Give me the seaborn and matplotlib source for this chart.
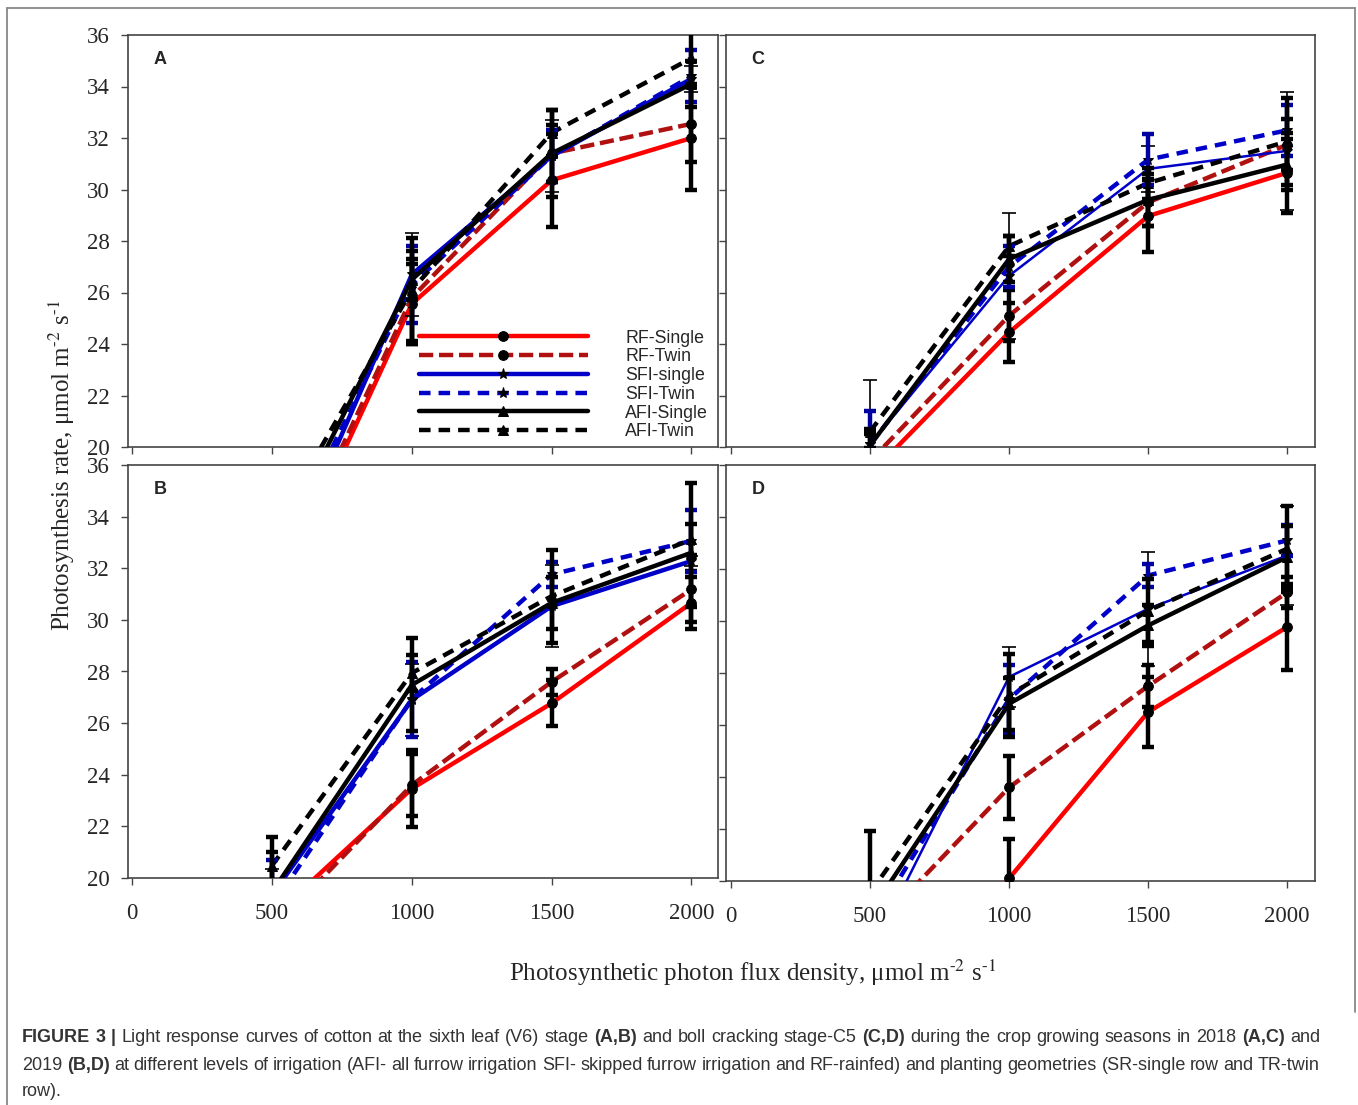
# Light response curves of cotton - 4 panel figure (A, C top; B, D bottom)

import matplotlib
matplotlib.use('Agg')
import matplotlib.pyplot as plt
from matplotlib.lines import Line2D
import seaborn as sns
import pandas as pd

# PPFD levels
ppfd = [500, 1000, 1500, 2000]

series = ['RF-Single', 'RF-Twin', 'SFI-single', 'SFI-Twin', 'AFI-Single', 'AFI-Twin']

# mean photosynthesis rate, rows follow `series`
panel_a_mean = [[13.8, 25.56, 30.36, 32.0],
                [14.2, 25.8, 31.4, 32.55],
                [14.3, 26.7, 31.3, 34.3],
                [15.2, 26.3, 31.3, 34.4],
                [15.77, 26.5, 31.4, 34.1],
                [16.69, 26.1, 32.2, 35.1]]
panel_a_err = [[1.0, 1.56, 1.8, 2.0],
               [1.0, 1.8, 1.7, 1.5],
               [1.0, 1.6, 1.4, 0.5],
               [1.0, 1.5, 1.0, 1.0],
               [1.0, 0.8, 1.1, 0.9],
               [1.0, 2.0, 0.9, 1.0]]

panel_b_mean = [[18.46, 23.46, 26.77, 30.66],
                [17.98, 23.6, 27.6, 31.18],
                [19.35, 26.9, 30.53, 32.28],
                [18.9, 26.93, 31.76, 33.06],
                [19.45, 27.48, 30.66, 32.6],
                [20.48, 27.94, 30.92, 33.12]]
panel_b_err = [[1.0, 1.5, 0.9, 1.0],
               [1.0, 1.2, 0.5, 0.7],
               [1.0, 1.4, 1.6, 0.2],
               [1.8, 1.45, 0.5, 1.2],
               [1.55, 1.8, 1.0, 2.7],
               [1.1, 0.7, 1.8, 0.6]]

panel_c_mean = [[18.93, 24.45, 28.97, 30.65],
                [19.45, 25.1, 29.5, 31.74],
                [20.1, 26.65, 30.8, 31.5],
                [20.1, 27.0, 31.16, 32.3],
                [20.06, 27.3, 29.6, 30.97],
                [20.6, 27.8, 30.25, 31.87]]
panel_c_err = [[0.5, 1.15, 1.4, 1.55],
               [0.5, 1.0, 0.9, 1.0],
               [2.5, 2.45, 0.9, 2.3],
               [1.3, 0.8, 1.0, 1.0],
               [0.6, 0.9, 1.0, 1.0],
               [0.1, 0.4, 0.6, 1.7]]

panel_d_mean = [[14.0, 20.1, 26.5, 29.77],
                [18.0, 23.6, 27.5, 31.1],
                [17.2, 27.85, 30.47, 32.52],
                [18.25, 27.0, 31.75, 33.1],
                [18.78, 26.82, 29.83, 32.46],
                [19.54, 27.14, 30.4, 32.78]]
panel_d_err = [[1.0, 1.5, 1.35, 1.65],
               [1.0, 1.2, 0.8, 0.6],
               [1.0, 1.15, 2.2, 1.9],
               [1.0, 1.3, 0.45, 0.6],
               [1.0, 1.0, 0.8, 1.2],
               [2.4, 1.6, 1.2, 1.66]]

y_ticks = [20, 22, 24, 26, 28, 30, 32, 34, 36]
x_ticks = [0, 500, 1000, 1500, 2000]

# styles
colors = ['#ff0000', '#b01010', '#0000c8', '#0000c8', '#000000', '#000000']
styles = ['-', (0, (3.2, 1.3)), '-', (0, (2.6, 1.8)), '-', (0, (2.6, 1.8))]
markers = ['o', 'o', '*', '*', '^', '^']
err_colors = ['black', 'black', 'black', '#0000a0', 'black', 'black']

sns.set_theme(style='ticks')
plt.rcParams['font.family'] = ['Liberation Serif', 'DejaVu Serif']
plt.rcParams['mathtext.fontset'] = 'stix'

W, H = 1358, 1105
fig = plt.figure(figsize=(W / 100, H / 100), dpi=100)


def ax_rect(left, top, right, bottom):
    return [left / W, 1 - bottom / H, (right - left) / W, (bottom - top) / H]


panels = [
    ('A', ax_rect(128, 35, 718, 447), panel_a_mean, panel_a_err, (-15, 2095), False, True, 3.2),
    ('C', ax_rect(726, 35, 1315, 447), panel_c_mean, panel_c_err, (-18, 2100), False, False, 1.8),
    ('B', ax_rect(128, 465, 718, 878), panel_b_mean, panel_b_err, (-15, 2095), True, True, 3.2),
    ('D', ax_rect(726, 465, 1315, 881), panel_d_mean, panel_d_err, (-18, 2100), True, False, 1.8),
]

legend_handles = []
for letter, rect, means, errs, xlim, show_x, show_y, sfi_lw in panels:
    ax = fig.add_axes(rect)
    for i, name in enumerate(series):
        df = pd.DataFrame({'ppfd': ppfd, 'rate': means[i]})
        lw = sfi_lw if i == 2 else 3.2
        sns.lineplot(data=df, x='ppfd', y='rate', ax=ax, color=colors[i],
                     linestyle=styles[i], linewidth=lw, marker=markers[i],
                     markersize=7 if markers[i] != '*' else 8,
                     markerfacecolor='black', markeredgecolor='black',
                     label=name, zorder=3)
        if letter == 'A':
            legend_handles.append(ax.lines[-1])
        thin = i == 2
        ax.errorbar(ppfd, means[i], yerr=errs[i], fmt='none',
                    ecolor=err_colors[i], elinewidth=1.2 if thin else 3.2,
                    capsize=5 if thin else 4.5, capthick=1.2 if thin else 3.2,
                    zorder=4)
    ax.set_xlim(*xlim)
    ax.set_ylim(20, 36)
    ax.set_xticks(x_ticks)
    ax.set_yticks(y_ticks)
    ax.set_xlabel('')
    ax.set_ylabel('')
    if not show_x:
        ax.set_xticklabels([])
    if not show_y:
        ax.set_yticklabels([])
    ax.tick_params(direction='out', length=5, width=1, color='#444444',
                   labelsize=16.5)
    ax.tick_params(axis='x', pad=13)
    ax.tick_params(axis='y', pad=8)
    for sp in ax.spines.values():
        sp.set_visible(True)
        sp.set_color('#444444')
        sp.set_linewidth(1.2)
    ax.text(0.054, 0.94, letter, transform=ax.transAxes, ha='center', va='center',
            fontsize=13, fontweight='bold', family='Liberation Sans')
    if ax.get_legend() is not None:
        ax.get_legend().remove()
    if letter == 'A':
        leg = ax.legend(handles=legend_handles, labels=series, loc='upper left',
                        bbox_to_anchor=(0.493, 0.285), frameon=False,
                        handlelength=9.5, handletextpad=2.1, labelspacing=0.1,
                        borderpad=0, borderaxespad=0, numpoints=1,
                        prop={'family': 'Liberation Sans', 'size': 12.8})

ylab = r'Photosynthesis rate, μmol m$^{\text{-}2}$ s$^{\text{-}1}$'
xlab = r'Photosynthetic photon flux density, μmol m$^{\text{-}2}$ s$^{\text{-}1}$'
fig.text(62 / W, 1 - 465 / H, ylab, rotation=90, ha='center', va='center', fontsize=18)
fig.text(753 / W, 1 - 973 / H, xlab, ha='center', va='center', fontsize=18)

# outer frame
frame_kw = dict(color='#888888', linewidth=1.3, transform=fig.transFigure)
fig.add_artist(Line2D([7 / W, 7 / W], [0, 1 - 8 / H], **frame_kw))
fig.add_artist(Line2D([7 / W, 1355 / W], [1 - 8 / H, 1 - 8 / H], **frame_kw))
fig.add_artist(Line2D([1355 / W, 1355 / W], [1 - 8 / H, 1 - 1012 / H], **frame_kw))

# caption with bold parts, justified like the journal layout
caption_lines = [
    [('FIGURE 3 |', 'bold'), ('Light response curves of cotton at the sixth leaf (V6) stage', 'normal'),
     ('(A,B)', 'bold'), ('and boll cracking stage-C5', 'normal'), ('(C,D)', 'bold'),
     ('during the crop growing seasons in 2018', 'normal'), ('(A,C)', 'bold'), ('and', 'normal')],
    [('2019', 'normal'), ('(B,D)', 'bold'),
     ('at different levels of irrigation (AFI- all furrow irrigation SFI- skipped furrow irrigation and RF-rainfed) and planting geometries (SR-single row and TR-twin', 'normal')],
    [('row).', 'normal')],
]
caption_y = [1037, 1065, 1092]
caption_justify = [True, True, False]

renderer = fig.canvas.get_renderer()
cap_kw = dict(family='Liberation Sans', color='#333333', va='center', ha='left', fontsize=13)
probe = fig.text(0, 0, 'a a', **cap_kw)
w2 = probe.get_window_extent(renderer).width
probe.set_text('aa')
space_w = w2 - probe.get_window_extent(renderer).width
probe.remove()

x0, x1 = 22, 1320
for parts, yy, justify in zip(caption_lines, caption_y, caption_justify):
    words = [(w, weight) for txt, weight in parts for w in txt.split(' ')]
    arts = [fig.text(0, 1 - yy / H, w, fontweight=weight, **cap_kw) for w, weight in words]
    widths = [a.get_window_extent(renderer).width for a in arts]
    gap = space_w
    if justify and len(arts) > 1:
        gap = (x1 - x0 - sum(widths)) / (len(arts) - 1)
    x = x0
    for a, w in zip(arts, widths):
        a.set_x(x / W)
        x += w + gap

fig.savefig('out.png', dpi=100)
